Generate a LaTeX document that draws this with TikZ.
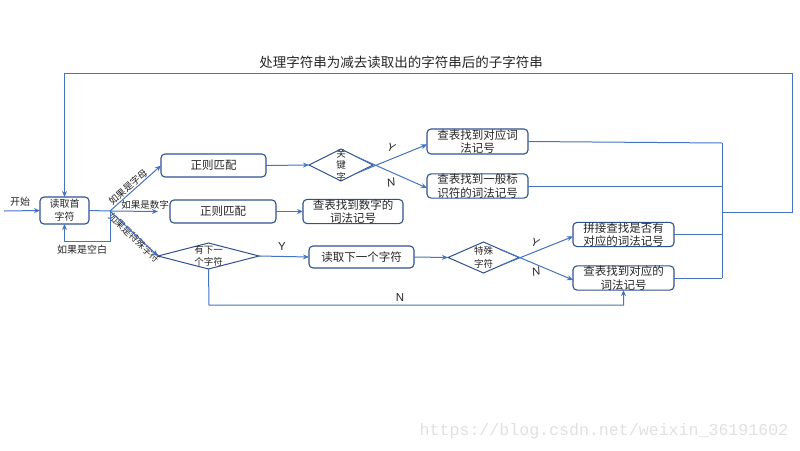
\documentclass[tikz,border=0pt]{standalone}
\usepackage{fontspec}
\setmainfont{Noto Sans CJK SC}
\newfontfamily\wmfont{Liberation Mono}
\newfontfamily\ynfont{Liberation Sans}
\usetikzlibrary{arrows.meta,shapes.geometric,calc}
\definecolor{lineblue}{HTML}{4472C4}
\definecolor{boxblue}{HTML}{2F528F}
\definecolor{txt}{HTML}{262626}
\tikzset{
  conn/.style={draw=lineblue, line width=1pt},
  arr/.style={conn, -{Stealth[length=6pt,width=5pt]}},
  procbox/.style={draw=boxblue, line width=1.1pt, rounded corners=4pt, inner sep=0pt, outer sep=0pt, align=center, text=txt, font=\fontsize{11.5}{13.5}\selectfont},
  dia/.style={diamond, draw=boxblue, line width=1pt, inner sep=0pt, outer sep=0pt},
  dtext/.style={align=center, text=txt, inner sep=0pt, font=\fontsize{9.5}{12.5}\selectfont},
  lbl/.style={text=txt, inner sep=0pt, font=\fontsize{9.5}{11}\selectfont},
  yn/.style={text=txt, inner sep=0pt, font=\ynfont\fontsize{11.5}{12}\selectfont\itshape},
  ynup/.style={text=txt, inner sep=0pt, font=\ynfont\fontsize{11.5}{12}\selectfont},
}
\begin{document}
\begin{tikzpicture}[x=1pt,y=-1pt]
\useasboundingbox (0,0) rectangle (800,450);
% nodes
\node[procbox, minimum width=49pt, minimum height=27pt, font=\fontsize{10}{13}\selectfont] (s) at (64.5,210.5) {读取首\\字符};
\node[procbox, minimum width=105pt, minimum height=23pt] (r1) at (213.5,165.5) {正则匹配};
\node[procbox, minimum width=106pt, minimum height=23pt] (r2) at (223,211.5) {正则匹配};
\node[procbox, minimum width=100pt, minimum height=23pt] (n) at (353,211.5) {查表找到数字的\\词法记号};
\node[procbox, minimum width=101pt, minimum height=25pt] (k1) at (477.5,141.5) {查表找到对应词\\法记号};
\node[procbox, minimum width=101pt, minimum height=22pt] (k2) at (477.5,186) {查表找到一般标\\识符的词法记号};
\node[procbox, minimum width=105pt, minimum height=22pt] (rd) at (361.5,257) {读取下一个字符};
\node[procbox, minimum width=101pt, minimum height=23pt] (p1) at (623.5,234.5) {拼接查找是否有\\对应的词法记号};
\node[procbox, minimum width=101pt, minimum height=22pt] (p2) at (623.5,278) {查表找到对应的\\词法记号};
\node[dia, minimum width=64pt, minimum height=32pt] (dk) at (341,165) {};
\node[dtext, font=\fontsize{9.5}{11.5}\selectfont] at (dk) {关\\键\\字};
\node[dia, minimum width=101pt, minimum height=26pt] (dn) at (208.5,256) {};
\node[dtext] at (dn) {有下一\\个字符};
\node[dia, minimum width=71pt, minimum height=31pt] (ds) at (483.5,257.5) {};
\node[dtext] at (ds) {特殊\\字符};
% coordinates
\coordinate (in) at (4,211);
\coordinate (br) at (110,211);
\coordinate (busT) at (722,143);
\coordinate (busB) at (722,278);
\coordinate (loopA) at (722,212);
\coordinate (loopB) at (792,212);
\coordinate (loopC) at (792,73);
\coordinate (bottom) at (209,305);
% labels
\node[text=txt, inner sep=0pt, font=\fontsize{13.5}{15}\selectfont] (top) at (401,62) {处理字符串为减去读取出的字符串后的子字符串};
\node[lbl, font=\fontsize{10}{11}\selectfont] (start) at (20,202) {开始};
\node[lbl, font=\fontsize{10}{11}\selectfont] (blank) at (82,250) {如果是空白};
\node[lbl, rotate=41] (la) at (128,187) {如果是字母};
\node[lbl] (ld) at (145,205) {如果是数字};
\node[lbl, rotate=-44] (ls) at (134,237.5) {如果是特殊字符};
\node[yn, rotate=-15] at (391,148) {Y};
\node[yn, rotate=15] at (391,183) {N};
\node[ynup] at (282,247) {Y};
\node[ynup] at (400,298) {N};
\node[yn, rotate=-15] at (535,243) {Y};
\node[yn, rotate=15] at (536,272) {N};
\node[text=black!12, inner sep=0pt, font=\wmfont\fontsize{16.6}{18}\selectfont] (wm) at (604,431) {https://blog.csdn.net/weixin\_36191602};
% connectors
\draw[arr] (in) -- (s.west);
\draw[conn] (s.east) -- (br);
\draw[arr] (br) -- ++(0,30) -| (s.south);
\draw[arr] (br) -- (r1.west);
\draw[arr] (br) -- ($(r2.west)+(-12,0)$);
\draw[arr] (br) -- (dn.west);
\draw[arr] (r1.east) -- (dk.west);
\draw[arr] (dk.south east) -- ($(k1.west)+(0,3)$);
\draw[arr] (dk.north east) -- ($(k2.west)+(0,2)$);
\draw[arr] (r2.east) -- (n.west);
\draw[arr] (dn.east) -- (rd.west);
\draw[arr] (rd.east) -- (ds.west);
\draw[arr] (ds.south east) -- ($(p1.west)+(0,2)$);
\draw[arr] (ds.north east) -- ($(p2.west)+(0,2)$);
\draw[arr] (dn.south) -- (bottom) -| (p2.south);
\draw[conn] (k1.east) -- (busT);
\draw[conn] (k2.east) -- (k2.east -| busT);
\draw[conn] (p1.east) -- (p1.east -| busT);
\draw[conn] (p2.east) -- (busB);
\draw[conn] (busT) -- (busB);
\draw[arr] (loopA) -- (loopB) -- (loopC) -| (s.north);
\end{tikzpicture}
\end{document}
